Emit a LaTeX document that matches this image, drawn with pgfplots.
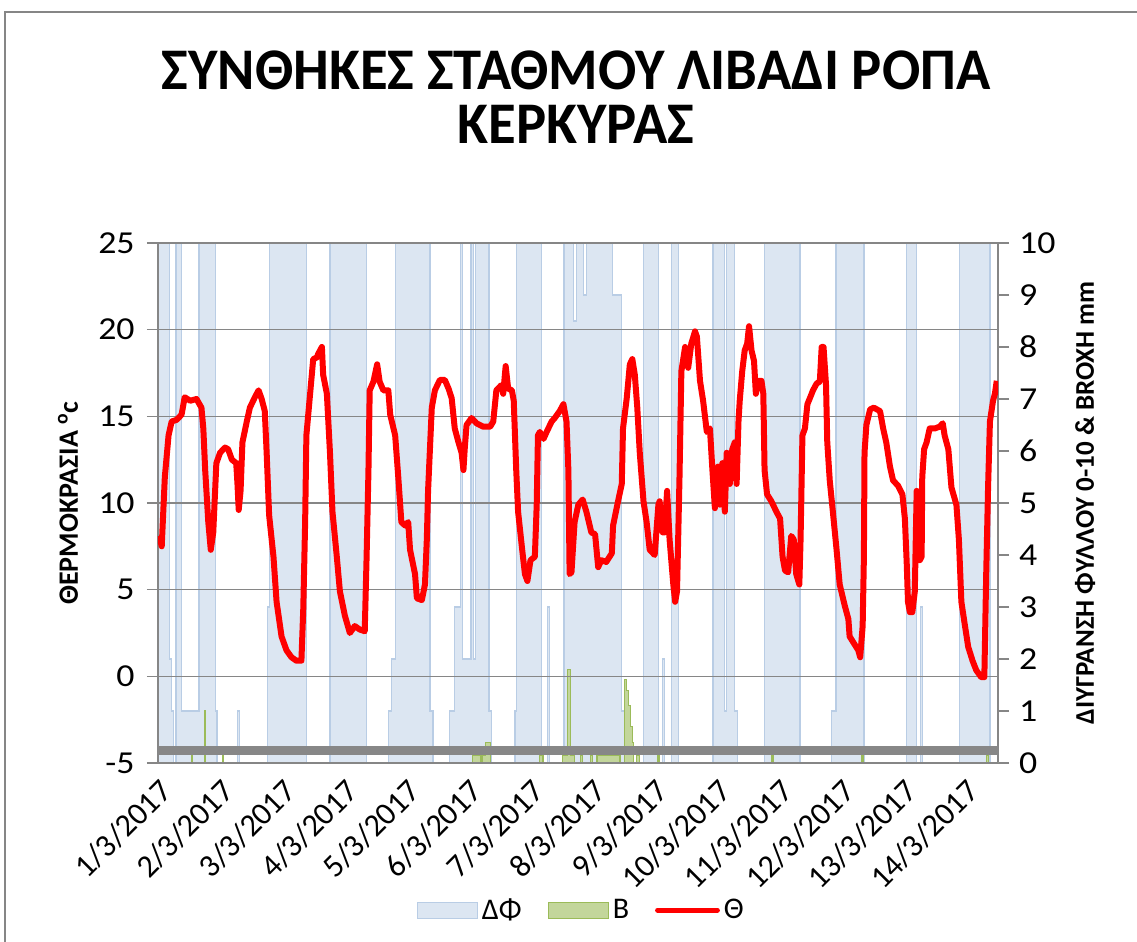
\documentclass[border=0pt]{standalone}
\usepackage{fontspec}
\setmainfont{Carlito}
\usepackage{pgfplots}
\pgfplotsset{compat=1.18}
\definecolor{dphi}{HTML}{DCE6F2}
\definecolor{dphiedge}{HTML}{B9CDE5}
\definecolor{rainfill}{HTML}{C3D69B}
\definecolor{rainedge}{HTML}{9BBB59}
\definecolor{gridgray}{HTML}{868686}
\definecolor{bargray}{HTML}{878787}
\begin{document}
\begin{tikzpicture}
\useasboundingbox (0pt,0pt) rectangle (568.5pt,471pt);
\draw[gridgray, line width=1pt] (2.5pt,-1pt) -- (2.5pt,465pt) -- (570pt,465pt);
\node[font=\bfseries\fontsize{29.5}{34}\selectfont, anchor=base, xscale=0.96] at (288pt,426pt) {ΣΥΝΘΗΚΕΣ ΣΤΑΘΜΟΥ ΛΙΒΑΔΙ ΡΟΠΑ};
\node[font=\bfseries\fontsize{29.5}{34}\selectfont, anchor=base, xscale=0.96] at (288pt,399pt) {ΚΕΡΚΥΡΑΣ};

% right axis: leaf wetness and rain
\begin{axis}[
  at={(79pt,89.5pt)}, anchor=south west,
  scale only axis, width=420pt, height=260pt,
  xmin=0, xmax=13.53, ymin=0, ymax=10,
  clip mode=individual,
  axis x line=none,
  axis y line*=right,
  ytick={0,1,...,10},
  axis line style={gridgray, line width=0.75pt},
  ytick style={gridgray, line width=0.75pt},
  tick align=outside, major tick length=5.5pt,
  yticklabel style={font=\fontsize{16}{18}\selectfont, xscale=1.12, xshift=1pt},
  /pgf/number format/assume math mode=true,
]
\addplot[const plot, fill=dphi, draw=dphiedge, line width=0.6pt] coordinates {
(0,10)(0.19,2)(0.22,1)(0.25,0)(0.29,10)(0.38,1)(0.66,10)(0.92,1)(0.95,0)
(1.28,1)(1.31,0)(1.77,3)(1.80,10)(2.39,0)(2.77,10)(3.36,0)(3.71,1)(3.76,2)
(3.82,10)(4.38,1)(4.43,0)(4.70,1)(4.78,3)(4.87,10)(4.91,2)(5.04,10)(5.08,2)
(5.12,10)(5.33,1)(5.37,0)(5.75,1)(5.78,10)(6.18,0)(6.28,3)(6.31,0)(6.54,10)
(6.69,8.5)(6.74,10)(6.85,9)(6.90,10)(7.32,9)(7.47,1)(7.52,0)(7.82,10)(8.06,0)
(8.13,2)(8.16,0)(8.27,10)(8.38,0)(8.94,10)(9.13,1)(9.16,10)(9.29,1)(9.34,0)
(9.77,10)(10.34,0)(10.85,1)(10.92,10)(11.37,0)(12.05,10)(12.22,0)(12.28,3)
(12.31,0)(12.91,10)(13.40,0)(13.53,0)
} \closedcycle;
\addplot[const plot, fill=rainfill, draw=rainedge, line width=0.6pt] coordinates {
(0,0)(0.54,0.15)(0.56,0)(0.75,1.0)(0.77,0)(1.04,0.15)(1.06,0)
(5.07,0.15)(5.19,0)(5.22,0.15)(5.27,0.4)(5.35,0)(6.15,0.15)(6.20,0)
(6.52,0.15)(6.60,1.8)(6.64,0.15)(6.71,0)(6.80,0.15)(6.84,0)(6.96,0.15)(7.00,0)
(7.07,0.15)(7.44,0)(7.52,1.6)(7.55,1.4)(7.58,1.1)(7.61,0.7)(7.64,0.4)(7.66,0)
(7.71,0.15)(7.76,0)(8.04,0.15)(8.07,0)(9.89,0.15)(9.92,0)(11.34,0.15)(11.36,0)
(13.35,0.15)(13.38,0)(13.53,0)
} \closedcycle;
\node[rotate=90, font=\bfseries\fontsize{13.5}{16}\selectfont] at (axis description cs:1.1036,0.5) {ΔΙΥΓΡΑΝΣΗ ΦΥΛΛΟΥ 0-10 \& BROXH mm};
\end{axis}

% left axis: temperature
\begin{axis}[
  at={(79pt,89.5pt)}, anchor=south west,
  scale only axis, width=420pt, height=260pt,
  xmin=0, xmax=13.53, ymin=-5, ymax=25,
  clip mode=individual,
  axis y line*=left, axis x line*=bottom,
  ytick={-5,0,...,25},
  ymajorgrids, grid style={gridgray, line width=0.75pt},
  axis line style={gridgray, line width=0.75pt},
  ytick style={gridgray, line width=0.75pt},
  tick align=outside, major tick length=5.5pt,
  yticklabel style={font=\fontsize{16}{18}\selectfont, xscale=1.12, xshift=-2pt},
  xtick={0,1,...,13},
  xticklabels={1/3/2017,2/3/2017,3/3/2017,4/3/2017,5/3/2017,6/3/2017,7/3/2017,8/3/2017,9/3/2017,10/3/2017,11/3/2017,12/3/2017,13/3/2017,14/3/2017},
  xtick style={draw=none},
  xticklabel style={rotate=45, anchor=north east, font=\fontsize{16}{18}\selectfont, inner sep=1pt},
  /pgf/number format/assume math mode=true,
  legend columns=3,
  legend style={at={(axis description cs:0.505,-0.283)}, anchor=center, draw=none, fill=none,
    font=\fontsize{15}{17}\selectfont,
    /tikz/every even column/.append style={column sep=11pt}},
]
\addlegendimage{legend image code/.code={\draw[fill=dphi,draw=dphiedge,line width=0.6pt] (0pt,-4pt) rectangle (30pt,4pt);}}
\addlegendentry{ΔΦ}
\addlegendimage{legend image code/.code={\draw[fill=rainfill,draw=rainedge,line width=0.6pt] (0pt,-4pt) rectangle (30pt,4pt);}}
\addlegendentry{B}
\addplot[bargray, line width=4.5pt, forget plot] coordinates {(0,-4.28)(13.53,-4.28)};
\addplot[red, line width=3pt, line join=round,
  legend image code/.code={\draw[red, line width=2.4pt, line cap=round] (0pt,0pt) -- (30pt,0pt);}] coordinates {
(0.02,8.1)(0.06,7.5)(0.09,9.9)(0.11,11.5)(0.17,13.9)(0.22,14.7)(0.30,14.8)(0.38,15.1)
(0.43,16.1)(0.52,15.9)(0.62,16.0)(0.70,15.5)(0.73,14.3)(0.76,11.9)(0.81,8.9)(0.85,7.3)
(0.89,8.3)(0.92,10.7)(0.94,12.3)(1.00,12.9)(1.08,13.2)(1.13,13.1)(1.19,12.5)(1.26,12.3)
(1.28,11.1)(1.30,9.6)(1.33,10.7)(1.36,13.5)(1.43,14.7)(1.48,15.5)(1.56,16.1)(1.62,16.5)
(1.67,16.0)(1.72,15.3)(1.75,12.9)(1.79,9.3)(1.86,6.9)(1.91,4.3)(1.99,2.3)(2.07,1.5)
(2.15,1.1)(2.23,0.9)(2.31,0.9)(2.34,3.9)(2.37,8.9)(2.39,13.9)(2.45,16.3)(2.50,18.3)
(2.56,18.4)(2.58,18.6)(2.64,19.0)(2.66,17.4)(2.72,16.3)(2.77,12.9)(2.81,9.5)(2.88,6.9)
(2.93,4.9)(3.01,3.5)(3.09,2.5)(3.17,2.9)(3.25,2.7)(3.33,2.6)(3.36,6.9)(3.39,11.9)
(3.41,16.5)(3.47,17.0)(3.53,18.0)(3.57,17.0)(3.63,16.5)(3.71,16.5)(3.74,15.1)(3.82,13.9)
(3.87,11.5)(3.92,8.9)(3.98,8.7)(4.03,8.9)(4.06,7.3)(4.14,5.9)(4.17,4.5)(4.25,4.4)
(4.30,5.3)(4.33,7.9)(4.35,10.7)(4.41,15.5)(4.46,16.5)(4.54,17.1)(4.62,17.1)(4.68,16.6)
(4.73,16.05)(4.78,14.3)(4.84,13.5)(4.89,12.9)(4.92,11.9)(4.94,13.1)(4.97,14.5)(5.05,14.9)
(5.13,14.6)(5.24,14.4)(5.35,14.4)(5.40,14.7)(5.45,16.5)(5.53,16.8)(5.56,16.3)(5.60,17.9)
(5.64,16.6)(5.70,16.5)(5.73,15.9)(5.77,11.9)(5.80,9.5)(5.86,7.5)(5.91,5.9)(5.95,5.5)
(6.00,6.7)(6.07,6.9)(6.10,9.9)(6.12,13.9)(6.15,14.1)(6.21,13.7)(6.26,14.1)(6.34,14.7)
(6.39,14.9)(6.47,15.3)(6.53,15.7)(6.58,14.7)(6.61,11.9)(6.63,5.9)(6.66,6.0)(6.71,8.9)
(6.77,9.9)(6.84,10.2)(6.90,9.5)(6.98,8.3)(7.04,8.2)(7.09,6.3)(7.14,6.7)(7.22,6.6)
(7.31,7.1)(7.33,8.7)(7.41,10.1)(7.47,11.1)(7.49,14.3)(7.55,16.05)(7.60,18.0)(7.64,18.3)
(7.68,17.4)(7.72,15.5)(7.76,12.9)(7.82,10.1)(7.87,8.9)(7.92,7.3)(8.00,7.0)(8.06,9.9)
(8.08,10.1)(8.13,8.3)(8.16,8.3)(8.20,10.7)(8.24,7.9)(8.30,5.3)(8.33,4.3)(8.36,4.9)
(8.40,11.5)(8.43,17.6)(8.49,19.0)(8.54,17.8)(8.59,19.2)(8.65,19.9)(8.68,19.6)(8.73,17.05)
(8.78,15.9)(8.84,14.1)(8.89,14.3)(8.93,11.9)(8.97,9.7)(9.02,12.1)(9.05,9.9)(9.09,12.3)
(9.13,9.5)(9.16,12.9)(9.21,11.1)(9.25,13.1)(9.29,13.5)(9.32,11.1)(9.35,14.7)(9.37,15.9)
(9.41,17.6)(9.45,18.8)(9.49,19.2)(9.52,20.2)(9.56,18.8)(9.60,18.2)(9.63,16.3)(9.67,17.05)
(9.72,17.05)(9.75,16.3)(9.77,11.9)(9.81,10.5)(9.88,10.1)(9.96,9.5)(10.02,9.1)(10.06,6.9)
(10.10,6.1)(10.15,6.0)(10.20,8.1)(10.24,7.9)(10.28,5.9)(10.33,5.3)(10.35,7.9)(10.38,13.9)
(10.42,14.3)(10.46,15.7)(10.50,16.05)(10.55,16.5)(10.61,16.9)(10.66,17.0)(10.69,19.0)(10.72,19.0)
(10.76,16.8)(10.78,13.5)(10.82,11.3)(10.87,9.5)(10.93,7.3)(10.98,5.3)(11.06,4.1)(11.12,3.3)
(11.14,2.3)(11.21,1.9)(11.28,1.5)(11.31,1.1)(11.35,2.9)(11.37,6.9)(11.38,12.9)(11.41,14.5)
(11.47,15.4)(11.53,15.5)(11.63,15.3)(11.68,14.3)(11.73,13.5)(11.79,12.1)(11.84,11.3)(11.92,11.0)
(11.99,10.5)(12.03,9.1)(12.06,6.5)(12.08,4.3)(12.11,3.7)(12.15,3.7)(12.19,4.9)(12.22,10.7)
(12.24,8.9)(12.27,6.7)(12.30,6.9)(12.31,11.5)(12.34,13.1)(12.38,13.5)(12.43,14.3)(12.51,14.3)
(12.59,14.4)(12.64,14.6)(12.67,13.9)(12.73,13.1)(12.78,10.9)(12.86,9.9)(12.90,7.9)(12.94,4.3)
(12.99,3.1)(13.05,1.7)(13.12,0.9)(13.18,0.35)(13.26,-0.05)(13.31,-0.05)(13.34,5.9)(13.37,10.9)
(13.40,14.7)(13.45,15.9)(13.48,16.3)(13.51,17.05)
};
\addlegendentry{Θ}
\node[rotate=90, font=\bfseries\fontsize{14}{16}\selectfont] at (axis description cs:-0.1071,0.5) {ΘΕΡΜΟΚΡΑΣΙΑ \textsuperscript{o}c};
\end{axis}
\end{tikzpicture}
\end{document}
